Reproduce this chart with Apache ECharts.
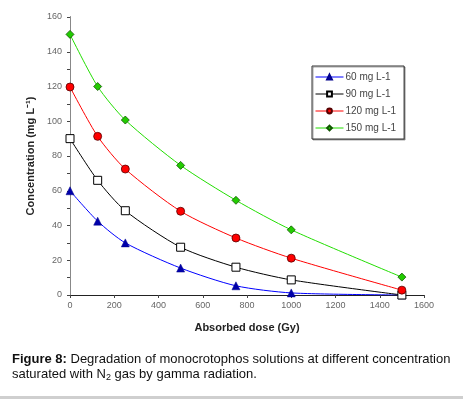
<!DOCTYPE html>
<html>
<head>
<meta charset="utf-8">
<script src="https://cdn.jsdelivr.net/npm/echarts@6/dist/echarts.min.js"></script>
<style>
  html, body { margin: 0; padding: 0; background: #fff; }
  #chart { width: 463px; height: 401px; }
</style>
</head>
<body>
<div id="chart"></div>
<script>
// absorbed dose (Gy)
const dose = [0, 125, 250, 500, 750, 1000, 1500];

// concentration (mg L-1) per initial concentration
const c60 = [60, 42.5, 30, 15.5, 5.3, 1.2, 0];
const c90 = [90, 66, 48.5, 27.5, 16, 8.7, 0];
const c120 = [119.7, 91.3, 72.5, 48.2, 32.8, 21.2, 2.8];
const c150 = [150, 120, 100.7, 74.6, 54.5, 37.5, 10.3];

const names = ['60 mg L-1', '90 mg L-1', '120 mg L-1', '150 mg L-1'];

let chart = echarts.init(document.getElementById('chart'));

const pairs = (ys) => dose.map((x, i) => [x, ys[i]]);

const font = 'Liberation Sans, Arial, sans-serif';

let option = {
    animation: false,
    textStyle: { fontFamily: font },
    grid: {
        left: 70,
        right: 39,
        top: 17,
        bottom: 106
    },
    legend: {
        orient: 'vertical',
        left: 312,
        top: 66,
        width: 90,
        padding: [6, 8, 6, 3],
        itemGap: 7,
        itemWidth: 28,
        itemHeight: 6,
        borderColor: '#333',
        borderWidth: 1,
        backgroundColor: '#fff',
        shadowColor: 'rgba(0,0,0,0.35)',
        shadowOffsetX: 1,
        shadowOffsetY: 1,
        lineStyle: { width: 1 },
        textStyle: { fontSize: 10, color: '#444', fontFamily: font, padding: [0, 0, 0, -3] },
        data: names
    },
    xAxis: [{
        type: 'value',
        min: 0,
        max: 1600,
        interval: 200,
        name: 'Absorbed dose (Gy)',
        nameLocation: 'middle',
        nameGap: 27,
        nameTextStyle: { fontSize: 11, fontWeight: 'bold', color: '#222', fontFamily: font },
        axisLine: { lineStyle: { color: '#222', width: 1 } },
        axisTick: { show: true, length: 3, lineStyle: { color: '#444' } },
        axisLabel: { fontSize: 9, color: '#666', margin: 6, formatter: (v) => String(v) },
        splitLine: { show: false }
    }, {
        type: 'value',
        position: 'top',
        min: 0,
        max: 1600,
        axisLine: { show: true, lineStyle: { color: '#222', width: 1 } },
        axisTick: { show: false },
        axisLabel: { show: false },
        splitLine: { show: false }
    }],
    yAxis: [{
        type: 'value',
        min: 0,
        max: 160,
        interval: 20,
        name: 'Concentration (mg L\u207B\u00B9)',
        nameLocation: 'middle',
        nameGap: 34,
        nameTextStyle: { fontSize: 11, fontWeight: 'bold', color: '#222', fontFamily: font },
        axisLine: { show: true, lineStyle: { color: '#222', width: 1 } },
        axisTick: { show: true, length: 3, lineStyle: { color: '#444' } },
        minorTick: { show: true, splitNumber: 2, length: 3, lineStyle: { color: '#444' } },
        axisLabel: { fontSize: 9, color: '#666', margin: 8 },
        splitLine: { show: false }
    }, {
        type: 'value',
        position: 'right',
        min: 0,
        max: 160,
        axisLine: { show: true, lineStyle: { color: '#888', width: 1 } },
        axisTick: { show: false },
        axisLabel: { show: false },
        splitLine: { show: false }
    }],
    series: [{
        name: names[0],
        type: 'line',
        smooth: 0.25,
        data: pairs(c60),
        symbol: 'triangle',
        symbolSize: 8,
        lineStyle: { color: '#0000ff', width: 1 },
        itemStyle: { color: '#0000aa', borderColor: '#00008b', borderWidth: 0.5 }
    }, {
        name: names[1],
        type: 'line',
        smooth: 0.25,
        data: pairs(c90),
        symbol: 'rect',
        symbolSize: 8,
        lineStyle: { color: '#000', width: 1 },
        itemStyle: { color: '#fff', borderColor: '#000', borderWidth: 1 }
    }, {
        name: names[2],
        type: 'line',
        smooth: 0.25,
        data: pairs(c120),
        symbol: 'circle',
        symbolSize: 8,
        lineStyle: { color: '#ff0000', width: 1 },
        itemStyle: { color: '#ff0000', borderColor: '#550000', borderWidth: 0.8 }
    }, {
        name: names[3],
        type: 'line',
        smooth: 0.25,
        data: pairs(c150),
        symbol: 'diamond',
        symbolSize: 8,
        lineStyle: { color: '#22dd00', width: 1 },
        itemStyle: { color: '#22cc00', borderColor: '#115500', borderWidth: 0.8 }
    }],
    graphic: [{
        type: 'text',
        left: 12,
        top: 352,
        style: {
            text: '{b|Figure 8:} Degradation of monocrotophos solutions at different concentration\nsaturated with N{sub|2} gas by gamma radiation.',
            fontSize: 13,
            fontFamily: font,
            fill: '#111',
            lineHeight: 15,
            rich: {
                b: { fontSize: 13, fontWeight: 'bold', fontFamily: font, fill: '#111' },
                sub: { fontSize: 9, fontFamily: font, fill: '#111', verticalAlign: 'bottom', lineHeight: 15, padding: [6, 0, 0, 0] }
            }
        }
    }, {
        type: 'rect',
        left: 0,
        top: 396,
        shape: { width: 463, height: 3 },
        style: { fill: '#cfcfcf' }
    }]
};

chart.setOption(option);
</script>
</body>
</html>
